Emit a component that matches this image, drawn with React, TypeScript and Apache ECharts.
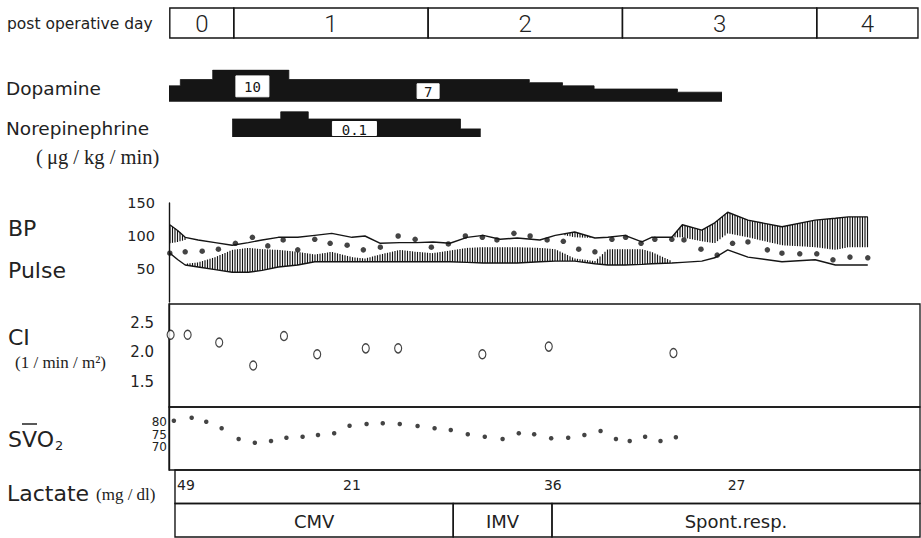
import React, { useEffect, useRef } from 'react';
import * as echarts from 'echarts';

// ---------------- data ----------------
const dayLabels = ['0', '1', '2', '3', '4'];
const dayStart = [0.1, 8, 32, 56, 80];
const dayEnd = [8, 32, 56, 80, 92.5];

const dopamineTime = [0, 1.4, 5.4, 14.8, 44.5, 48.6, 52.5, 62.8, 68.3];
const dopamineDose = [5, 7, 10, 7, 6, 5, 4, 3, 3];
const dopamineLabelTime = [10.3, 32.0];
const dopamineLabelText = ['10', '7'];

const norepiTime = [7.8, 13.8, 17.2, 36.0, 38.5];
const norepiDose = [0.1, 0.14, 0.1, 0.045, 0.045];
const norepiLabelTime = [22.9];
const norepiLabelText = ['0.1'];

const bpTime = [0.1, 1.1, 2.0, 3.6, 5.7, 7.8, 9.8, 11.5, 13.5, 15.9, 18.0, 20.1, 22.6, 24.2, 26.1, 28.5, 30.6, 32.6, 34.7, 36.8, 38.8, 40.9, 43.0, 45.8, 47.7, 50.1, 52.6, 54.2, 56.3, 58.4, 59.6, 62.1, 63.4, 65.8, 67.4, 69.0, 71.5, 75.7, 79.8, 82.3, 83.9, 86.3];
const bpUpper = [117, 108, 98, 94, 90, 86, 90, 94, 98, 98, 101, 104, 98, 100, 89, 90, 90, 91, 89, 98, 101, 95, 97, 94, 101, 106, 97, 98, 101, 91, 98, 98, 117, 109, 120, 136, 124, 114, 124, 127, 129, 129];
const bpLower = [74, 64, 56, 53, 49, 45, 45, 48, 53, 56, 61, 61, 61, 61, 61, 61, 61, 61, 61, 60, 59, 59, 59, 61, 62, 62, 58, 56, 56, 57, 58, 59, 60, 62, 67, 79, 68, 61, 64, 56, 56, 56];

// hatched part of the pressure band (null = break)
const hatchTime = [
  0.1, 1.1, 2.0, null,
  2.0, 3.6, 5.7, 7.8, 9.8, 11.5, 13.5, 15.9, 18.0, 20.1, 22.6, 24.2, 26.1, 28.5, 30.6, 32.6, 34.7, 36.8, 38.8, 40.9, 43.0, 45.8, 47.7, 50.1, 52.6, 54.2, 56.3, 58.4, 59.6, 62.1, null,
  48.9, 50.1, 52.6, null,
  62.1, 63.4, 65.8, 67.4, 69.0, 71.5, 75.7, 79.8, 82.3, 83.9, 86.3,
];
const hatchLow = [
  89, 91, 94, null,
  56, 53, 49, 45, 45, 48, 53, 56, 61, 61, 61, 61, 61, 61, 61, 61, 61, 60, 59, 59, 59, 61, 62, 62, 58, 56, 56, 57, 58, 59, null,
  101, 98, 97, null,
  98, 98, 92, 89, 104, 98, 86, 83, 79, 83, 83,
];
const hatchHigh = [
  117, 108, 98, null,
  58, 60, 68, 79, 82, 80, 79, 76, 72, 76, 68, 66, 72, 79, 76, 74, 78, 82, 83, 83, 83, 82, 80, 66, 62, 80, 80, 80, 76, 62, null,
  103, 106, 97, null,
  98, 117, 109, 120, 136, 124, 114, 124, 127, 129, 129,
];

const pulseTime = [0.1, 2.0, 4.1, 6.1, 8.2, 10.3, 12.2, 14.1, 15.9, 18.0, 19.9, 22.0, 24.0, 26.1, 28.3, 30.4, 32.4, 34.5, 36.6, 38.7, 40.5, 42.6, 44.6, 46.7, 48.7, 50.6, 52.6, 54.7, 56.4, 58.3, 60.0, 62.1, 63.6, 65.7, 67.7, 69.6, 71.5, 73.9, 75.7, 77.9, 80.0, 82.0, 84.1, 86.3];
const pulse = [74, 76, 77, 80, 89, 98, 85, 94, 79, 95, 89, 86, 79, 83, 100, 95, 83, 88, 100, 98, 94, 104, 100, 94, 92, 80, 76, 95, 98, 89, 95, 95, 94, 80, 71, 89, 91, 79, 74, 73, 73, 64, 68, 67];

const ciTime = [0.2, 2.3, 6.2, 10.4, 14.2, 18.3, 24.3, 28.3, 38.7, 46.9, 62.3];
const ci = [2.3, 2.3, 2.17, 1.78, 2.28, 1.97, 2.07, 2.07, 1.97, 2.1, 1.99];

const svo2Time = [0.6, 2.8, 4.6, 6.5, 8.6, 10.6, 12.6, 14.5, 16.5, 18.4, 20.4, 22.3, 24.4, 26.4, 28.5, 30.7, 32.8, 34.8, 36.9, 39.0, 41.2, 43.2, 45.1, 47.2, 49.3, 51.3, 53.3, 55.2, 56.9, 58.8, 60.7, 62.6];
const svo2 = [80.5, 81.7, 80.1, 77.5, 73.2, 71.7, 72.4, 73.7, 74.1, 74.8, 75.5, 78.5, 79.2, 79.5, 79.2, 78.4, 77.5, 76.8, 75.1, 74.1, 73.2, 75.5, 75.1, 73.5, 73.7, 74.8, 76.4, 73.2, 72.4, 74.1, 72.4, 73.9];

const lactateTime = [2.1, 22.6, 47.4, 70.1];
const lactate = [49, 21, 36, 27];

const ventStart = [0.74, 35.1, 47.3];
const ventEnd = [35.1, 47.3, 92.75];
const ventMode = ['CMV', 'IMV', 'Spont.resp.'];

const bpTicks = [50, 100, 150];
const ciTicks = [1.5, 2.0, 2.5];
const svo2OuterTicks = [70, 80];
const svo2MiddleTicks = [75];

// ---------------- helpers ----------------
const X_MAX = 92.75;
const INK = '#151515';
const SANS = '"DejaVu Sans", sans-serif';
const SERIF = '"Liberation Serif", "DejaVu Serif", serif';

function stepAt(times: number[], vals: number[], t: number) {
  let v = vals[0];
  for (let i = 0; i < times.length; i++) if (times[i] <= t) v = vals[i];
  return v;
}

function hatchSegments() {
  const segs: number[][] = [];
  for (let i = 0; i < hatchTime.length - 1; i++) {
    const a = hatchTime[i], b = hatchTime[i + 1];
    if (a == null || b == null || hatchLow[i] == null || hatchLow[i + 1] == null) continue;
    segs.push([a as number, hatchLow[i] as number, hatchHigh[i] as number, b as number, hatchLow[i + 1] as number, hatchHigh[i + 1] as number]);
  }
  return segs;
}

const LEFT = 169;
const RIGHT = 1;

function grid(top: number, height: number, border = false) {
  return {
    left: LEFT, right: RIGHT, top, height,
    show: border, borderColor: INK, borderWidth: 1.3, backgroundColor: 'transparent',
  };
}

function xAx(i: number) {
  return { type: 'value', gridIndex: i, min: 0, max: X_MAX, show: false };
}

function hiddenY(i: number, min: number, max: number) {
  return { type: 'value', gridIndex: i, min, max, show: false };
}

function shownY(i: number, min: number, max: number, ticks: number[], fontSize: number, margin: number, fmt?: (v: number) => string, withLine = true) {
  return {
    type: 'value', gridIndex: i, min, max, position: 'left',
    axisLine: { show: withLine, lineStyle: { color: INK, width: 1.4 } },
    axisTick: { show: false },
    splitLine: { show: false },
    axisLabel: {
      customValues: ticks, interval: 0,
      margin, fontSize, lineHeight: fontSize, fontFamily: SANS, color: '#222',
      formatter: fmt ? fmt : (v: number) => String(v),
    },
  };
}

function drugLabelSeries(gi: number, times: number[], texts: string[], doseTimes: number[], doses: number[]) {
  return {
    type: 'custom', coordinateSystem: 'cartesian2d', xAxisIndex: gi, yAxisIndex: gi, silent: true, z: 20,
    data: times.map((t) => [t, stepAt(doseTimes, doses, t)]),
    renderItem: (params: any, api: any) => {
      const txt = texts[params.dataIndex];
      const top = api.coord([api.value(0), api.value(1)]);
      const base = api.coord([api.value(0), 0]);
      const barPx = base[1] - top[1];
      const cy = (top[1] + base[1]) / 2 + 0.5;
      const h = Math.max(14, barPx * 0.66);
      const w = txt.length * 11 + 11;
      return {
        type: 'group',
        children: [
          { type: 'rect', z2: 50, shape: { x: top[0] - w / 2, y: cy - h / 2, width: w, height: h }, style: { fill: '#ffffff', stroke: '#ffffff', lineWidth: 1 } },
          { type: 'text', z2: 60, style: { text: txt, x: top[0], y: cy + 1, align: 'center', verticalAlign: 'middle', fontSize: 14, fontFamily: '"DejaVu Sans Mono", monospace', fill: INK } },
        ],
      };
    },
  };
}

function buildOption() {
  const hatch = hatchSegments();
  return {
    animation: false,
    backgroundColor: '#ffffff',
    grid: [
      grid(8, 30), // 0 header
      grid(70, 31.7), // 1 dopamine
      grid(110, 27), // 2 norepinephrine
      grid(203, 99), // 3 BP
      grid(304, 103, true), // 4 CI
      grid(407, 63, true), // 5 SvO2
      grid(470, 67), // 6 lactate / ventilation rows
    ],
    xAxis: [0, 1, 2, 3, 4, 5, 6].map(xAx),
    yAxis: [
      hiddenY(0, 0, 1),
      hiddenY(1, 0, 10),
      hiddenY(2, 0, 0.15),
      shownY(3, 0, 150, bpTicks, 14.5, 14),
      shownY(4, 1.076, 2.822, ciTicks, 15, 15, (v: number) => v.toFixed(1)),
      shownY(5, 60.8, 86, svo2OuterTicks, 12, 2),
      hiddenY(6, 0, 2),
      shownY(5, 60.8, 86, svo2MiddleTicks, 12, 2, undefined, false),
    ],
    series: [
      // header: post operative days
      {
        type: 'custom', xAxisIndex: 0, yAxisIndex: 0, silent: true,
        data: dayStart.map((s, i) => [s, dayEnd[i]]),
        renderItem: (params: any, api: any) => {
          const a = api.coord([api.value(0), 1]);
          const b = api.coord([api.value(1), 0]);
          return {
            type: 'group',
            children: [
              { type: 'rect', shape: { x: a[0], y: a[1], width: b[0] - a[0], height: b[1] - a[1] }, style: { fill: 'none', stroke: INK, lineWidth: 1.4 } },
              { type: 'text', style: { text: dayLabels[params.dataIndex], x: (a[0] + b[0]) / 2, y: (a[1] + b[1]) / 2 + 1, align: 'center', verticalAlign: 'middle', fontSize: 24, fontWeight: 300, fontFamily: 'Roboto, sans-serif', fill: '#222' } },
            ],
          };
        },
      },
      // dopamine
      {
        type: 'line', xAxisIndex: 1, yAxisIndex: 1, step: 'end', symbol: 'none', silent: true, z: 2,
        data: dopamineTime.map((t, i) => [t, dopamineDose[i]]),
        lineStyle: { color: INK, width: 0.8 },
        areaStyle: { color: INK, opacity: 1 },
      },
      drugLabelSeries(1, dopamineLabelTime, dopamineLabelText, dopamineTime, dopamineDose),
      // norepinephrine
      {
        type: 'line', xAxisIndex: 2, yAxisIndex: 2, step: 'end', symbol: 'none', silent: true, clip: false, z: 2,
        data: norepiTime.map((t, i) => [t, norepiDose[i]]),
        lineStyle: { color: INK, width: 0.8 },
        areaStyle: { color: INK, opacity: 1 },
      },
      drugLabelSeries(2, norepiLabelTime, norepiLabelText, norepiTime, norepiDose),
      // BP hatch
      {
        type: 'custom', xAxisIndex: 3, yAxisIndex: 3, silent: true,
        data: hatch,
        encode: { x: [0, 3], y: [1, 2, 4, 5] },
        renderItem: (params: any, api: any) => {
          const a0 = api.coord([api.value(0), api.value(1)]);
          const a1 = api.coord([api.value(0), api.value(2)]);
          const b0 = api.coord([api.value(3), api.value(4)]);
          const b1 = api.coord([api.value(3), api.value(5)]);
          const x0 = a0[0], x1 = b0[0];
          const step = 2.5;
          const children: any[] = [];
          for (let x = Math.ceil(x0 / step) * step; x < x1; x += step) {
            const f = (x - x0) / (x1 - x0);
            const yl = a0[1] + f * (b0[1] - a0[1]);
            const yh = a1[1] + f * (b1[1] - a1[1]);
            if (Math.abs(yl - yh) < 0.5) continue;
            children.push({ type: 'line', shape: { x1: x, y1: yl, x2: x, y2: yh }, style: { stroke: '#111', lineWidth: 1.15 } });
          }
          return { type: 'group', children };
        },
      },
      {
        type: 'line', xAxisIndex: 3, yAxisIndex: 3, symbol: 'none', silent: true,
        data: bpTime.map((t, i) => [t, bpUpper[i]]),
        lineStyle: { color: INK, width: 1.4 },
      },
      {
        type: 'line', xAxisIndex: 3, yAxisIndex: 3, symbol: 'none', silent: true,
        data: bpTime.map((t, i) => [t, bpLower[i]]),
        lineStyle: { color: INK, width: 1.4 },
      },
      {
        type: 'scatter', xAxisIndex: 3, yAxisIndex: 3, silent: true,
        symbol: 'circle', symbolSize: 5.5,
        data: pulseTime.map((t, i) => [t, pulse[i]]),
        itemStyle: { color: INK },
      },
      // CI
      {
        type: 'scatter', xAxisIndex: 4, yAxisIndex: 4, silent: true,
        symbol: 'circle', symbolSize: [7, 9],
        data: ciTime.map((t, i) => [t, ci[i]]),
        itemStyle: { color: '#fff', borderColor: INK, borderWidth: 1.3 },
      },
      // SvO2
      {
        type: 'scatter', xAxisIndex: 5, yAxisIndex: 5, silent: true,
        symbol: 'circle', symbolSize: 4.5,
        data: svo2Time.map((t, i) => [t, svo2[i]]),
        itemStyle: { color: INK },
      },
      // lactate row box
      {
        type: 'custom', xAxisIndex: 6, yAxisIndex: 6, silent: true,
        data: [[ventStart[0], ventEnd[ventEnd.length - 1]]],
        renderItem: (params: any, api: any) => {
          const a = api.coord([api.value(0), 2]);
          const b = api.coord([api.value(1), 1]);
          return { type: 'rect', shape: { x: a[0], y: a[1], width: b[0] - a[0], height: b[1] - a[1] }, style: { fill: 'none', stroke: INK, lineWidth: 1.4 } };
        },
      },
      // lactate values
      {
        type: 'custom', xAxisIndex: 6, yAxisIndex: 6, silent: true,
        data: lactateTime.map((t, i) => [t, lactate[i]]),
        renderItem: (params: any, api: any) => {
          const c = api.coord([api.value(0), 1.55]);
          return { type: 'text', style: { text: String(api.value(1)), x: c[0], y: c[1], align: 'center', verticalAlign: 'middle', fontSize: 14, fontFamily: SANS, fill: '#222' } };
        },
      },
      // ventilation mode row
      {
        type: 'custom', xAxisIndex: 6, yAxisIndex: 6, silent: true,
        data: ventStart.map((s, i) => [s, ventEnd[i]]),
        renderItem: (params: any, api: any) => {
          const a = api.coord([api.value(0), 1]);
          const b = api.coord([api.value(1), 0]);
          return {
            type: 'group',
            children: [
              { type: 'rect', shape: { x: a[0], y: a[1], width: b[0] - a[0], height: b[1] - a[1] }, style: { fill: 'none', stroke: INK, lineWidth: 1.4 } },
              { type: 'text', style: { text: ventMode[params.dataIndex], x: (a[0] + b[0]) / 2, y: (a[1] + b[1]) / 2 + 1, align: 'center', verticalAlign: 'middle', fontSize: 18, fontFamily: SANS, fill: '#222' } },
            ],
          };
        },
      },
    ],
    graphic: [
      { type: 'text', x: 7, y: 24, style: { text: 'post operative day', fontSize: 15.5, fontFamily: SANS, fill: '#222', align: 'left', verticalAlign: 'middle' } },
      { type: 'text', x: 6, y: 88, style: { text: 'Dopamine', fontSize: 18.5, fontFamily: SANS, fill: '#222', align: 'left', verticalAlign: 'middle' } },
      { type: 'text', x: 6, y: 128, style: { text: 'Norepinephrine', fontSize: 18.5, fontFamily: SANS, fill: '#222', align: 'left', verticalAlign: 'middle' } },
      { type: 'text', x: 36, y: 157, style: { text: '(\u2009μg / kg / min)', fontSize: 20.5, fontFamily: SERIF, fill: '#222', align: 'left', verticalAlign: 'middle' } },
      { type: 'text', x: 8, y: 228, style: { text: 'BP', fontSize: 22, fontFamily: SANS, fill: '#222', align: 'left', verticalAlign: 'middle' } },
      { type: 'text', x: 8, y: 270, style: { text: 'Pulse', fontSize: 22, fontFamily: SANS, fill: '#222', align: 'left', verticalAlign: 'middle' } },
      { type: 'text', x: 8, y: 337, style: { text: 'CI', fontSize: 22, fontFamily: SANS, fill: '#222', align: 'left', verticalAlign: 'middle' } },
      { type: 'text', x: 15, y: 362, style: { text: '(1 / min / m²)', fontSize: 17, fontFamily: SERIF, fill: '#222', align: 'left', verticalAlign: 'middle' } },
      { type: 'text', x: 8, y: 439, style: { text: 'SVO', fontSize: 22, fontFamily: SANS, fill: '#222', align: 'left', verticalAlign: 'middle' } },
      { type: 'text', x: 55, y: 445, style: { text: '2', fontSize: 13, fontFamily: SANS, fill: '#222', align: 'left', verticalAlign: 'middle' } },
      { type: 'line', shape: { x1: 22, y1: 424, x2: 37, y2: 424 }, style: { stroke: '#222', lineWidth: 1.5 } },
      { type: 'text', x: 7, y: 493, style: { text: 'Lactate', fontSize: 22, fontFamily: SANS, fill: '#222', align: 'left', verticalAlign: 'middle' } },
      { type: 'text', x: 96, y: 494, style: { text: '(mg / dl)', fontSize: 17, fontFamily: SERIF, fill: '#222', align: 'left', verticalAlign: 'middle' } },
    ],
  };
}

export default function App() {
  const ref = useRef<HTMLDivElement>(null);
  useEffect(() => {
    if (!ref.current) return;
    const chart = echarts.init(ref.current, undefined, { renderer: 'svg' });
    chart.setOption(buildOption() as any);
    return () => chart.dispose();
  }, []);
  return <div ref={ref} style={{ position: 'fixed', left: 0, top: 0, width: 921, height: 538, background: '#fff' }} />;
}
